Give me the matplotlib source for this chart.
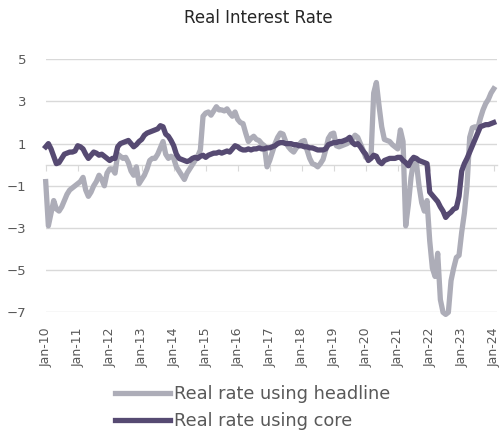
import matplotlib
matplotlib.use("Agg")
import matplotlib.pyplot as plt
import numpy as np
import pandas as pd

# monthly, Jan-10 .. Jan-24
months = pd.date_range("2010-01-01", "2024-01-01", freq="MS")

headline = [
    -0.8, -2.9, -2.3, -1.7, -2.1, -2.2, -2.0, -1.7, -1.4, -1.2, -1.1, -1.0,
    -0.9, -0.8, -0.6, -1.2, -1.5, -1.3, -1.0, -0.8, -0.5, -0.7, -1.0, -0.4,
    -0.2, -0.2, -0.4, 0.5, 0.4, 0.3, 0.35, 0.1, -0.3, -0.5, -0.1, -0.9,
    -0.7, -0.5, -0.2, 0.2, 0.3, 0.3, 0.5, 0.8, 1.1, 0.5, 0.3, 0.4,
    0.3, -0.1, -0.3, -0.5, -0.7, -0.4, -0.2, 0.0, 0.2, 0.4, 0.7, 2.3,
    2.45, 2.5, 2.35, 2.55, 2.75, 2.6, 2.6, 2.55, 2.65, 2.45, 2.3, 2.5,
    2.15, 2.0, 1.95, 1.5, 1.1, 1.25, 1.35, 1.2, 1.15, 1.0, 0.9, -0.1,
    0.2, 0.6, 1.0, 1.3, 1.5, 1.45, 1.1, 0.85, 0.7, 0.6, 0.8, 0.95,
    1.1, 1.15, 0.7, 0.3, 0.05, 0.0, -0.1, 0.05, 0.25, 0.7, 1.25, 1.45,
    1.5, 0.9, 0.85, 0.9, 0.95, 1.0, 1.1, 1.2, 1.4, 1.3, 1.0, 0.7,
    0.35, 0.3, 0.4, 3.4, 3.9, 2.8, 1.8, 1.2, 1.15, 1.1, 0.95, 0.85,
    0.75, 1.65, 1.1, -2.9, -1.9, -0.6, 0.2, 0.1, -1.0, -1.8, -2.2, -1.7,
    -3.6, -4.9, -5.3, -4.2, -6.4, -7.0, -7.1, -7.0, -5.5, -4.9, -4.4, -4.3,
    -3.2, -2.3, -1.0, 1.3, 1.75, 1.8, 1.7, 2.2, 2.6, 2.9, 3.1, 3.4,
    3.6,
]

core = [
    0.85, 1.0, 0.75, 0.4, 0.05, 0.1, 0.3, 0.5, 0.55, 0.6, 0.6, 0.65,
    0.9, 0.85, 0.75, 0.5, 0.3, 0.45, 0.6, 0.55, 0.45, 0.5, 0.4, 0.3,
    0.2, 0.3, 0.3, 0.85, 1.0, 1.05, 1.1, 1.15, 1.0, 0.85, 0.95, 1.1,
    1.2, 1.4, 1.5, 1.55, 1.6, 1.65, 1.7, 1.85, 1.8, 1.45, 1.35, 1.15,
    0.9, 0.5, 0.3, 0.25, 0.2, 0.15, 0.2, 0.3, 0.35, 0.3, 0.4, 0.45,
    0.35, 0.45, 0.5, 0.55, 0.55, 0.6, 0.55, 0.6, 0.65, 0.6, 0.75, 0.9,
    0.85, 0.75, 0.7, 0.7, 0.75, 0.7, 0.75, 0.75, 0.8, 0.75, 0.75, 0.8,
    0.8, 0.85, 0.9, 1.0, 1.05, 1.05, 1.0, 1.0, 1.0, 0.95, 0.95, 0.9,
    0.9, 0.85, 0.85, 0.8, 0.8, 0.75, 0.7, 0.7, 0.7, 0.75, 0.95, 1.0,
    1.05, 1.05, 1.1, 1.1, 1.15, 1.2, 1.3, 1.05, 0.95, 1.0, 0.85, 0.65,
    0.5, 0.2, 0.3, 0.45, 0.4, 0.15, 0.05, 0.2, 0.25, 0.3, 0.3, 0.3,
    0.35, 0.35, 0.2, 0.1, -0.05, 0.2, 0.35, 0.3, 0.2, 0.15, 0.1, 0.05,
    -1.3, -1.45, -1.6, -1.75, -2.0, -2.2, -2.5, -2.35, -2.25, -2.1, -2.05, -1.5,
    -0.3, 0.05, 0.3, 0.6, 0.9, 1.2, 1.5, 1.8, 1.85, 1.9, 1.9, 1.95,
    2.0,
]

yticks = [5, 3, 1, -1, -3, -5, -7]
xtick_labels = ["Jan-%02d" % y for y in range(10, 25)]

grey_txt = "#595959"
c_head = "#adadb8"
c_core = "#564a72"

plt.rcParams["font.family"] = ["DejaVu Sans"]

fig = plt.figure(figsize=(5.02, 4.30), dpi=100)
W, H = 502, 430
ax = fig.add_axes([45.7 / W, (H - 312.3) / H, (497 - 45.7) / W, (312.3 - 59.3) / H])

x = np.arange(len(months))
ax.plot(x, headline, color=c_head, lw=3.8, solid_joinstyle="round",
        label="Real rate using headline", clip_on=False, zorder=3)
ax.plot(x, core, color=c_core, lw=3.8, solid_joinstyle="round",
        label="Real rate using core", clip_on=False, zorder=4)

ax.set_ylim(-7, 5)
ax.set_xlim(0, 168 * (497 - 45.7) / (493.7 - 45.7))
ax.set_yticks(yticks)
ax.set_yticklabels([str(v).replace("-", "\u2212") for v in yticks])
ax.grid(axis="y", color="#d9d9d9", lw=1)
ax.set_axisbelow(True)
for s in ["top", "right", "left"]:
    ax.spines[s].set_visible(False)
ax.spines["bottom"].set_position(("data", 0))
ax.spines["bottom"].set_color("#d9d9d9")
ax.spines["bottom"].set_linewidth(1)
year_pos = np.arange(0, 169, 12)
ax.set_xticks(year_pos)
ax.tick_params(axis="x", length=4, color="#d9d9d9", labelbottom=False)
ax.tick_params(axis="y", length=0, labelsize=9.5, labelcolor=grey_txt, pad=14)

sec = ax.secondary_xaxis(0)
sec.set_xticks(year_pos)
sec.set_xticklabels(xtick_labels, rotation=90)
sec.tick_params(length=0, labelsize=9, labelcolor=grey_txt, pad=11)
sec.spines["bottom"].set_visible(False)

fig.text(258 / W, 1 - 18 / H, "Real Interest Rate", ha="center", va="center",
         fontsize=12, color="#262626")

fig.legend(loc="upper left", bbox_to_anchor=(106 / W, 1 - 376 / H),
           frameon=False, fontsize=12.8, handlelength=3.1, handletextpad=0.25,
           labelspacing=0.5, borderpad=0, labelcolor=grey_txt)

fig.savefig("out.png", dpi=100)
